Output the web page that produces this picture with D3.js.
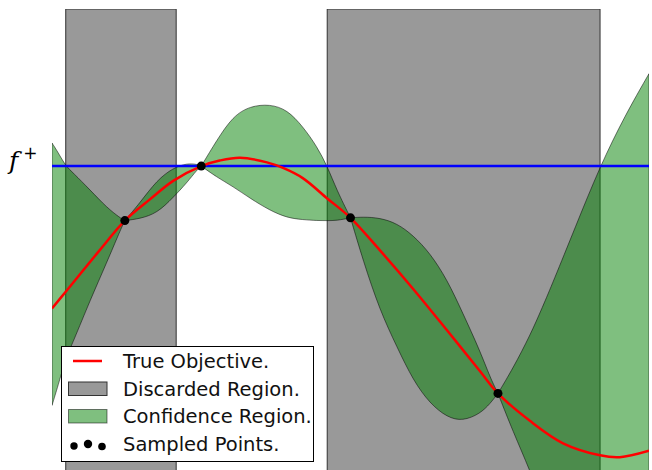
<!DOCTYPE html>
<html><head><meta charset="utf-8">
<script src="https://cdn.jsdelivr.net/npm/d3@7"></script>
<style>body{margin:0;background:#fff} svg{display:block}</style>
</head><body><svg id="chart" width="652" height="470"></svg>
<script>
// ---- data (abstract units) ----
const boundX = [0, 0.10, 0.23, 0.35, 0.64, 0.92, 1.14, 1.22,
  1.47, 1.76, 2.03, 2.26, 2.43, 2.50,
  2.76, 3.03, 3.32, 3.65, 3.94, 4.20, 4.44, 4.61, 4.77, 5.00,
  5.21, 5.49, 5.78, 6.05, 6.33, 6.62, 6.88, 7.17, 7.34, 7.47,
  7.72, 8.01, 8.22, 8.39, 8.76, 9.18, 9.60, 10];
const upperBound = [1.05, 0.95, 0.80, 0.73, 0.54, 0.35, 0.24, 0.21,
  0.40, 0.65, 0.78, 0.83, 0.82, 0.80,
  1.08, 1.34, 1.45, 1.47, 1.41, 1.23, 1.01, 0.80, 0.54, 0.24,
  0.25, 0.24, 0.18, 0.05, -0.14, -0.43, -0.79, -1.20, -1.49, -1.66,
  -1.39, -1.03, -0.72, -0.46, 0.13, 0.80, 1.35, 1.80];
const lowerBound = [-1.79, -1.58, -1.28, -1.11, -0.65, -0.24, 0.10, 0.21,
  0.23, 0.29, 0.46, 0.62, 0.76, 0.80,
  0.68, 0.58, 0.45, 0.32, 0.24, 0.22, 0.21, 0.21, 0.21, 0.24,
  -0.22, -0.76, -1.16, -1.52, -1.77, -1.92, -1.96, -1.88, -1.77, -1.66,
  -2.07, -2.50, -2.86, -3.10, -3.68, -4.33, -4.98, -5.61];
const objectiveX = [0, 0.23, 0.80, 1.22, 1.64, 2.03, 2.50, 2.81, 3.15, 3.60, 3.87,
  4.20, 4.61, 5.00, 5.49, 6.05, 6.62, 7.17, 7.47, 8.01, 8.56, 9.18, 9.51, 10];
const objectiveY = [-0.74, -0.56, -0.11, 0.21, 0.44, 0.64, 0.80, 0.86, 0.89, 0.84, 0.78,
  0.67, 0.45, 0.24, -0.11, -0.53, -0.98, -1.42, -1.66, -1.96, -2.20, -2.33, -2.35, -2.28];
const sampleX = [1.22, 2.50, 5.00, 7.47];
const sampleY = [0.21, 0.80, 0.24, -1.66];
const fPlus = 0.80;
const discardedStart = [0.23, 4.61];
const discardedEnd = [2.08, 9.18];
const legendLabels = ["True Objective.", "Discarded Region.", "Confidence Region.", "Sampled Points."];

// ---- drawing ----
const svg = d3.select("#chart");
const x = d3.scaleLinear().domain([0, 10]).range([52, 649]);
const y = d3.scaleLinear().domain([-2.5, 2.5]).range([471, 9]);

svg.append("defs").append("clipPath").attr("id", "plotclip")
  .append("rect").attr("x", x(0)).attr("y", y(2.5)).attr("width", x(10) - x(0)).attr("height", y(-2.5) - y(2.5));
const plot = svg.append("g").attr("clip-path", "url(#plotclip)");

// discarded regions
plot.selectAll("rect.disc").data(discardedStart).join("rect").attr("class", "disc")
  .attr("x", (d) => x(d)).attr("y", y(2.5))
  .attr("width", (d, i) => x(discardedEnd[i]) - x(d))
  .attr("height", y(-2.5) - y(2.5))
  .attr("fill", "#999999").attr("stroke", "#333").attr("stroke-width", 1);

// confidence region, one piece between each pair of sampled points
const idx = sampleX.map(s => boundX.indexOf(s));
const cuts = [0, ...idx, boundX.length - 1];
const area = d3.area().x(i => x(boundX[i])).y0(i => y(lowerBound[i])).y1(i => y(upperBound[i]))
  .curve(d3.curveBasis);
for (let k = 0; k < cuts.length - 1; k++) {
  const ids = d3.range(cuts[k], cuts[k + 1] + 1);
  plot.append("path").datum(ids).attr("d", area)
    .attr("fill", "green").attr("fill-opacity", 0.5)
    .attr("stroke", "#000").attr("stroke-opacity", 0.5).attr("stroke-width", 1);
}

// f+ line
plot.append("line").attr("x1", x(0)).attr("x2", x(10)).attr("y1", y(fPlus)).attr("y2", y(fPlus))
  .attr("stroke", "#0000ff").attr("stroke-width", 2.5);

// objective
const line = d3.line().x(i => x(objectiveX[i])).y(i => y(objectiveY[i])).curve(d3.curveCatmullRom.alpha(0.5));
plot.append("path").datum(d3.range(objectiveX.length)).attr("d", line)
  .attr("fill", "none").attr("stroke", "#ff0000").attr("stroke-width", 2.5);

// samples
plot.selectAll("circle.s").data(sampleX).join("circle").attr("class", "s")
  .attr("cx", d => x(d)).attr("cy", (d, i) => y(sampleY[i])).attr("r", 4.5).attr("fill", "#000");

// f+ label
const lab = svg.append("text").attr("x", 9).attr("y", y(fPlus) + 3)
  .attr("font-family", "'DejaVu Serif', serif").attr("font-style", "italic").attr("font-size", 25).attr("fill", "#000");
lab.append("tspan").text("f");
lab.append("tspan").attr("font-style", "normal").attr("font-family", "'DejaVu Sans', sans-serif")
  .attr("font-size", 17).attr("dx", 5).attr("dy", -10).text("+");

// legend
const lg = svg.append("g");
lg.append("rect").attr("x", 61.5).attr("y", 346.5).attr("width", 252).attr("height", 115)
  .attr("fill", "#fff").attr("stroke", "#000").attr("stroke-width", 1);
const rowY = [361, 388.5, 416, 443.5];
lg.append("line").attr("x1", 73).attr("x2", 102).attr("y1", rowY[0]).attr("y2", rowY[0])
  .attr("stroke", "#ff0000").attr("stroke-width", 2.5);
lg.append("rect").attr("x", 68.5).attr("y", rowY[1] - 6.5).attr("width", 38.5).attr("height", 13.5)
  .attr("fill", "#999999").attr("stroke", "#333").attr("stroke-width", 1);
lg.append("rect").attr("x", 68.5).attr("y", rowY[2] - 6.5).attr("width", 38.5).attr("height", 13.5)
  .attr("fill", "green").attr("fill-opacity", 0.5).attr("stroke", "#000").attr("stroke-opacity", 0.5).attr("stroke-width", 1);
const dotDx = [74, 88, 102], dotDy = [2.5, 0.5, 3], dotR = [3.7, 4.2, 3.8];
lg.selectAll("circle").data(dotDx).join("circle")
  .attr("cx", d => d).attr("cy", (d, i) => rowY[3] + dotDy[i]).attr("r", (d, i) => dotR[i]).attr("fill", "#000");
lg.selectAll("text").data(legendLabels).join("text")
  .attr("x", 123).attr("y", (d, i) => rowY[i] + 7)
  .attr("font-family", "'DejaVu Sans', sans-serif").attr("font-size", 19.5).attr("fill", "#111")
  .text(d => d);
</script></body></html>
